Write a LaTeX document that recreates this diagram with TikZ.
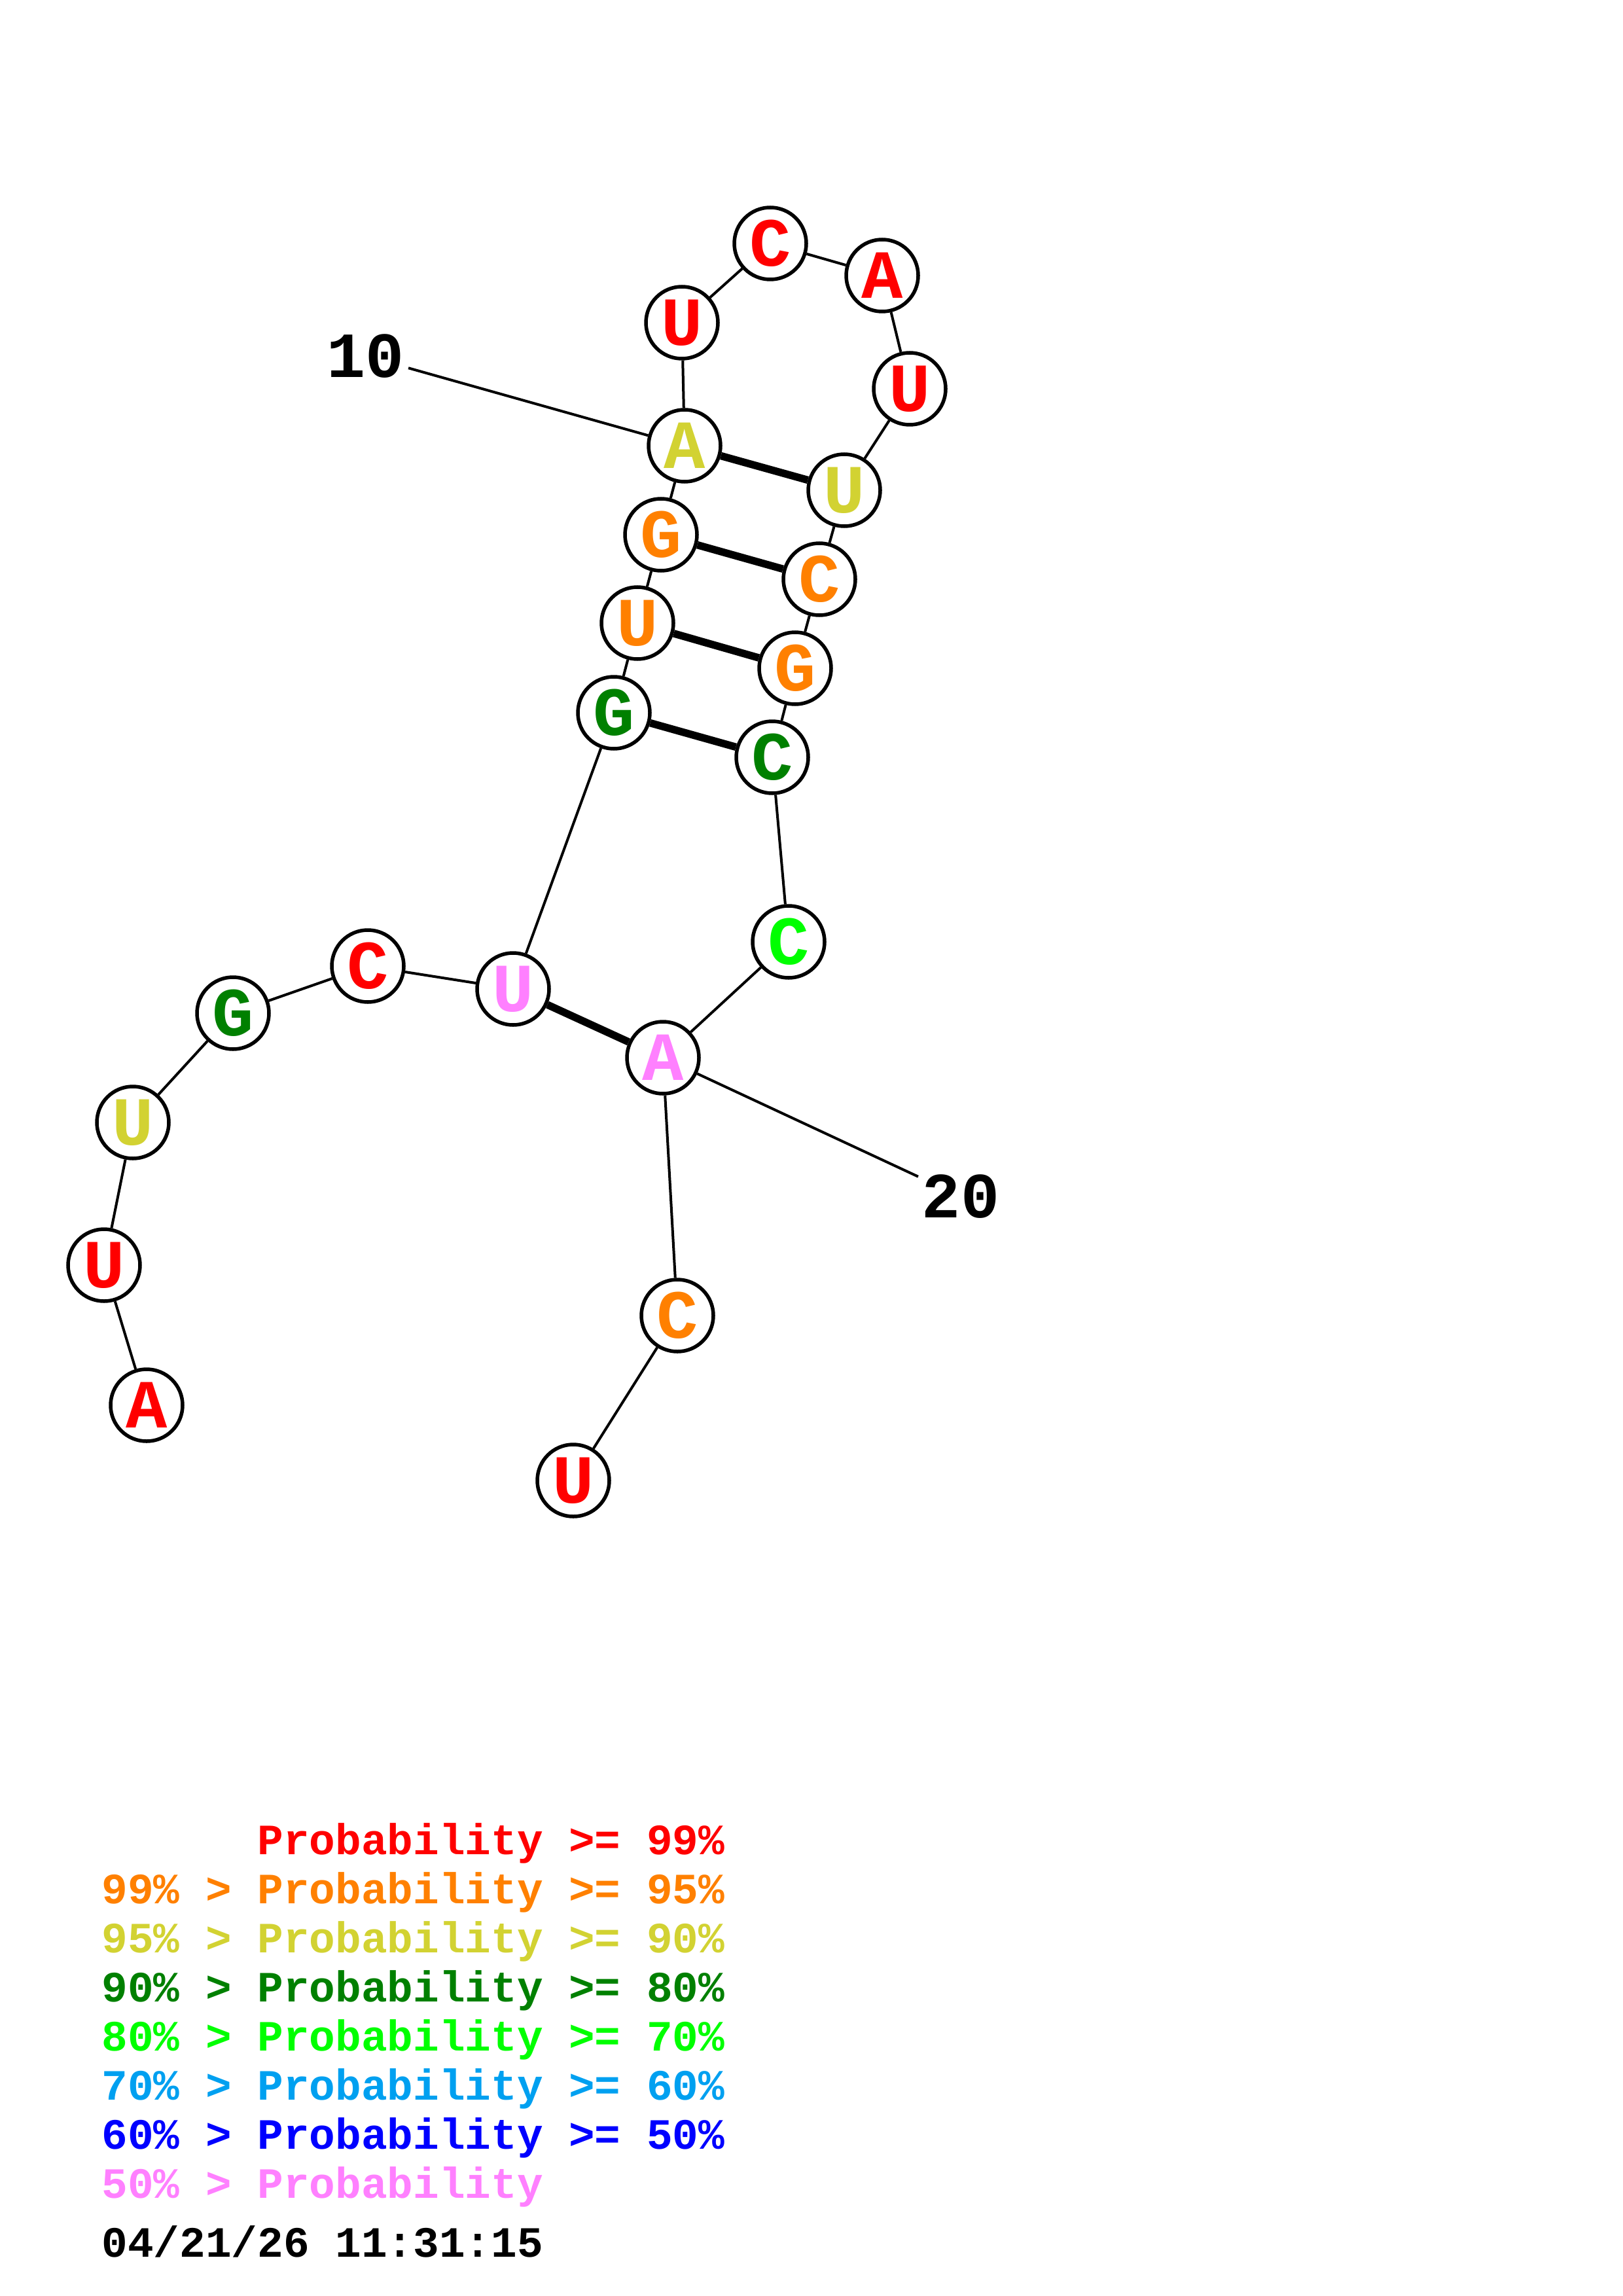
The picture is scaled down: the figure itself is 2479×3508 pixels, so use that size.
\documentclass[tikz,border=0pt]{standalone}
\usepackage{fontspec}
\setmonofont{Liberation Mono}

\definecolor{p99}{HTML}{FF0000}
\definecolor{p95}{HTML}{FF8000}
\definecolor{p90}{HTML}{D2D232}
\definecolor{p80}{HTML}{008000}
\definecolor{p70}{HTML}{00FF00}
\definecolor{p60}{HTML}{00A0F0}
\definecolor{p50}{HTML}{0000FF}
\definecolor{plow}{HTML}{FF80FF}

\tikzset{
  nuc/.style={circle,draw,fill=white,line width=0.55mm,minimum size=11mm,inner sep=0pt,
    font=\ttfamily\bfseries\fontsize{30}{30}\selectfont},
  bbone/.style={line width=0.4mm},
  bp/.style={line width=1.15mm},
  numlabel/.style={inner sep=1.5pt,font=\ttfamily\bfseries\fontsize{28}{28}\selectfont},
  legend/.style={anchor=base west,inner sep=0pt,font=\ttfamily\bfseries\fontsize{18.8}{18.8}\selectfont}
}

\begin{document}
\begin{tikzpicture}[x=0.1mm,y=-0.1mm]
  \useasboundingbox (0,0) rectangle (2479,3508);
  % nucleotides
  \node[nuc,text=p99] (n1) at (224,2147) {A};
  \node[nuc,text=p99] (n2) at (159,1933) {U};
  \node[nuc,text=p90] (n3) at (203,1715) {U};
  \node[nuc,text=p80] (n4) at (356,1548) {G};
  \node[nuc,text=p99] (n5) at (562,1476) {C};
  \node[nuc,text=plow] (n6) at (784,1511) {U};
  \node[nuc,text=p80] (n7) at (938,1089) {G};
  \node[nuc,text=p95] (n8) at (974,952) {U};
  \node[nuc,text=p95] (n9) at (1010,817) {G};
  \node[nuc,text=p90] (n10) at (1046,681) {A};
  \node[nuc,text=p99] (n11) at (1042,493) {U};
  \node[nuc,text=p99] (n12) at (1177,372) {C};
  \node[nuc,text=p99] (n13) at (1348,421) {A};
  \node[nuc,text=p99] (n14) at (1390,594) {U};
  \node[nuc,text=p90] (n15) at (1290,749) {U};
  \node[nuc,text=p95] (n16) at (1252,885) {C};
  \node[nuc,text=p95] (n17) at (1215,1021) {G};
  \node[nuc,text=p80] (n18) at (1180,1157) {C};
  \node[nuc,text=p70] (n19) at (1205,1439) {C};
  \node[nuc,text=plow] (n20) at (1013,1616) {A};
  \node[nuc,text=p95] (n21) at (1035,2010) {C};
  \node[nuc,text=p99] (n22) at (876,2262) {U};
  % backbone
  \foreach \i [evaluate=\i as \j using int(\i+1)] in {1,...,21}
    \draw[bbone] (n\i) -- (n\j);
  % pairs
  \draw[bp] (n10) -- (n15);
  \draw[bp] (n9) -- (n16);
  \draw[bp] (n8) -- (n17);
  \draw[bp] (n7) -- (n18);
  \draw[bp] (n6) -- (n20);
  % numbering
  \node[numlabel] (lab10) at (559,544) {10};
  \node[numlabel] (lab20) at (1468,1828) {20};
  \draw[bbone] (lab10) -- (n10);
  \draw[bbone] (n20) -- (lab20);
  % legend
  \node[legend,text=p99] (leg1) at (155,2833) {\phantom{99\% > }Probability >= 99\%};
  \node[legend,text=p95] (leg2) at (155,2908) {99\% > Probability >= 95\%};
  \node[legend,text=p90] (leg3) at (155,2983) {95\% > Probability >= 90\%};
  \node[legend,text=p80] (leg4) at (155,3058) {90\% > Probability >= 80\%};
  \node[legend,text=p70] (leg5) at (155,3133) {80\% > Probability >= 70\%};
  \node[legend,text=p60] (leg6) at (155,3208) {70\% > Probability >= 60\%};
  \node[legend,text=p50] (leg7) at (155,3283) {60\% > Probability >= 50\%};
  \node[legend,text=plow] (leg8) at (155,3358) {50\% > Probability};
  \node[legend] (stamp) at (155,3448) {04/21/26 11:31:15};
\end{tikzpicture}
\end{document}
